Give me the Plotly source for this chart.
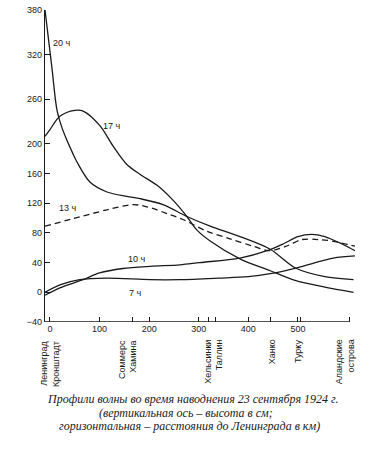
import plotly.graph_objects as go

# ---- data (km from Leningrad, height in cm) ----
km_20 = [-10, 4, 14, 24, 34, 46, 54, 81, 115, 155, 182, 228, 276, 323, 383, 444, 494, 554, 612]
h_20 = [380, 302, 246, 222, 205, 187, 176, 148, 135, 129, 126, 118, 102, 89, 75, 58, 33, 21, 17]

km_17 = [-10, 0, 20, 50, 67, 101, 127, 155, 181, 216, 248, 276, 296, 323, 383, 444, 494, 554, 612]
h_17 = [210, 219, 237, 245, 244, 224, 197, 172, 159, 144, 124, 102, 84, 69, 45, 29, 16, 7, 0]

km_13 = [-10, 46, 115, 167, 196, 236, 268, 317, 363, 410, 444, 480, 508, 540, 569, 615]
h_13 = [89, 99, 111, 118, 115, 106, 98, 82, 72, 62, 56, 63, 71, 71, 69, 62]

km_10 = [-10, 20, 67, 100, 147, 202, 262, 302, 383, 438, 470, 500, 528, 554, 589, 615]
h_10 = [-4, 6, 17, 26, 32, 35, 37, 40, 46, 56, 65, 75, 78, 75, 65, 56]

km_7 = [-10, 20, 60, 115, 202, 262, 340, 400, 444, 498, 571, 615]
h_7 = [0, 10, 17, 19, 17, 17, 19, 21, 25, 33, 46, 49]

series = [
    ("20 ч", km_20, h_20, "solid", 24, 336),
    ("17 ч", km_17, h_17, "solid", 125, 224),
    ("13 ч", km_13, h_13, "dash", 36, 113),
    ("10 ч", km_10, h_10, "solid", 175, 45),
    ("7 ч", km_7, h_7, "solid", 173, -1),
]

y_ticks = [-40, 0, 40, 80, 120, 160, 200, 260, 320, 380]
x_ticks = [0, 100, 200, 300, 400, 500]
city_km = [0, 166, 320, 334, 444, 505, 603]
city_labels = ["Ленинград<br>Кронштадт", "Соммерс<br>Хамина", "Хельсинки<br>Таллин",
               "Ханко", "Турку", "Аландские<br>острова"]
city_label_km = [0, 157, 329, 448, 500, 595]

caption = [
    "Профили волны во время наводнения 23 сентября 1924 г.",
    "(вертикальная ось – высота в см;",
    "горизонтальная – расстояния до Ленинграда в км)",
]

NARROW = "Liberation Sans Narrow, Arial Narrow, Liberation Sans, Arial, sans-serif"
SERIF = "Liberation Serif, Times New Roman, serif"

X_MIN, X_MAX, X_AXIS_END = -10, 615, 605
Y_MIN, Y_MAX = -40, 380

fig = go.Figure()
for name, xs, ys, dash, lx, ly in series:
    fig.add_trace(go.Scatter(
        x=xs, y=ys, mode="lines", name=name,
        line=dict(color="#1a1a1a", width=1.3, dash="6px,4px" if dash == "dash" else "solid",
                  shape="spline", smoothing=0.9),
        showlegend=False, hoverinfo="skip"))
    fig.add_annotation(x=lx, y=ly, text=name, showarrow=False,
                       font=dict(family=NARROW, size=9, color="#1a1a1a"))

# secondary axis for city ticks
fig.add_trace(go.Scatter(x=city_km, y=[None] * len(city_km), xaxis="x2",
                         showlegend=False, hoverinfo="skip"))

# horizontal axis line ending at the last station
fig.add_shape(type="line", xref="x", yref="y", x0=X_MIN, x1=X_AXIS_END, y0=Y_MIN, y1=Y_MIN,
              line=dict(color="#1a1a1a", width=1.3))

for lab, xk in zip(city_labels, city_label_km):
    fig.add_annotation(x=xk, xref="x", y=-0.05, yref="paper", text=lab,
                       textangle=-90, showarrow=False, xanchor="center", yanchor="top",
                       align="right",
                       font=dict(family=NARROW, size=9, color="#1a1a1a"))

cap_x = [45, 97, 57]
cap_y = [400, 414, 428]
for txt, cx, cy in zip(caption, cap_x, cap_y):
    fig.add_annotation(x=(cx - 45) / 310, xref="paper",
                       y=(322 - cy) / 317, yref="paper",
                       text="<i>" + txt + "</i>", showarrow=False,
                       xanchor="left", yanchor="middle",
                       font=dict(family=SERIF, size=12, color="#1a1a1a"))

fig.update_layout(
    width=383, height=450,
    margin=dict(l=45, r=28, t=5, b=128),
    paper_bgcolor="white", plot_bgcolor="white",
    xaxis=dict(range=[X_MIN, X_MAX], tickvals=x_ticks, ticktext=[str(v) for v in x_ticks],
               ticks="inside", ticklen=5, tickcolor="#1a1a1a", showline=False,
               showgrid=False, zeroline=False,
               tickfont=dict(family=NARROW, size=9, color="#1a1a1a")),
    xaxis2=dict(range=[X_MIN, X_MAX], overlaying="x", side="bottom", tickvals=city_km,
                showticklabels=False, ticks="inside", ticklen=5, tickcolor="#1a1a1a",
                showline=False, showgrid=False, zeroline=False),
    yaxis=dict(range=[Y_MIN, Y_MAX], tickvals=y_ticks, ticks="inside", ticklen=5,
               tickcolor="#1a1a1a", showline=True, linecolor="#1a1a1a", linewidth=1.3,
               showgrid=False, zeroline=False,
               tickfont=dict(family=NARROW, size=9, color="#1a1a1a")),
)

fig.write_html("out.html", config={"displayModeBar": False},
               post_script="document.body.style.margin='0';")
